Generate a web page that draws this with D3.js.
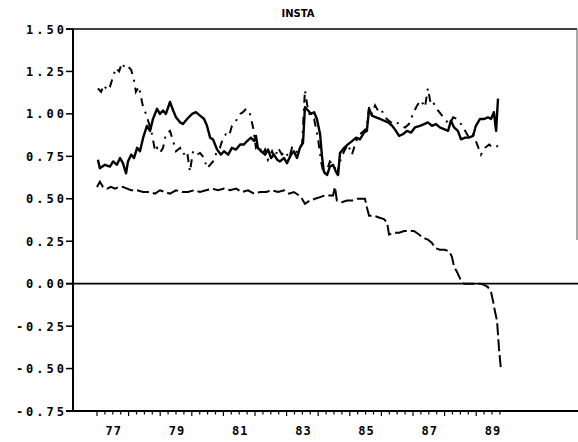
<!DOCTYPE html>
<html>
<head>
<meta charset="utf-8">
<script src="https://cdn.jsdelivr.net/npm/d3@7"></script>
<style>
  body { margin: 0; background: #fff; }
  svg { display: block; }
  .lbl { font-family: "DejaVu Sans Mono", monospace; font-weight: bold; font-size: 12px; fill: #000; }
</style>
</head>
<body>
<div id="chart"></div>
<script>
// solid series (decimal year, value)
let solidT = [1977.03,1977.09,1977.25,1977.41,1977.51,1977.63,1977.73,1977.82,1977.92,1977.98,
  1978.08,1978.17,1978.27,1978.36,1978.46,1978.58,1978.68,1978.77,1978.90,1978.99,
  1979.09,1979.18,1979.31,1979.41,1979.50,1979.63,1979.72,1979.85,1980.01,1980.13,
  1980.26,1980.39,1980.48,1980.58,1980.67,1980.80,1980.92,1981.02,1981.15,1981.27,
  1981.40,1981.53,1981.65,1981.75,1981.87,1981.97,1982.03,1982.09,1982.19,1982.32,
  1982.41,1982.51,1982.60,1982.70,1982.79,1982.92,1983.01,1983.14,1983.23,1983.33,
  1983.42,1983.52,1983.58,1983.68,1983.77,1983.87,1983.96,1984.06,1984.12,1984.18,
  1984.28,1984.37,1984.47,1984.56,1984.63,1984.69,1984.82,1984.94,1985.07,1985.20,
  1985.32,1985.45,1985.54,1985.61,1985.70,1985.83,1985.96,1986.08,1986.21,1986.34,
  1986.46,1986.56,1986.68,1986.81,1986.94,1987.06,1987.22,1987.35,1987.47,1987.60,
  1987.73,1987.85,1987.98,1988.11,1988.20,1988.30,1988.42,1988.52,1988.65,1988.77,
  1988.90,1988.99,1989.12,1989.25,1989.37,1989.47,1989.56,1989.63,1989.69];
let solidV = [0.73,0.68,0.70,0.69,0.72,0.70,0.74,0.71,0.65,0.72,
  0.76,0.74,0.80,0.78,0.86,0.93,0.90,0.97,1.03,1.00,
  1.02,1.00,1.07,1.02,0.98,0.95,0.94,0.97,1.00,1.01,
  0.99,0.97,0.93,0.86,0.85,0.79,0.76,0.78,0.76,0.80,
  0.79,0.82,0.82,0.84,0.86,0.84,0.87,0.80,0.78,0.76,
  0.79,0.74,0.76,0.73,0.72,0.74,0.71,0.76,0.78,0.74,
  0.80,0.83,1.04,1.02,1.00,1.01,0.97,0.88,0.75,0.66,
  0.64,0.69,0.70,0.66,0.64,0.77,0.80,0.82,0.84,0.86,
  0.85,0.89,0.90,1.03,0.99,0.98,0.97,0.96,0.95,0.93,
  0.90,0.87,0.88,0.90,0.89,0.92,0.93,0.94,0.95,0.93,
  0.94,0.92,0.91,0.90,0.96,0.92,0.90,0.85,0.86,0.86,
  0.87,0.93,0.97,0.97,0.98,0.97,1.01,0.90,1.09];

// dash-dot series
let dotT = [1977.03,1977.13,1977.22,1977.32,1977.41,1977.51,1977.60,1977.70,1977.79,1977.89,
  1977.98,1978.08,1978.17,1978.23,1978.33,1978.39,1978.46,1978.55,1978.65,1978.74,
  1978.84,1978.90,1978.99,1979.09,1979.18,1979.31,1979.41,1979.50,1979.63,1979.72,
  1979.85,1979.94,1980.04,1980.16,1980.26,1980.39,1980.48,1980.58,1980.67,1980.80,
  1980.89,1980.99,1981.08,1981.18,1981.27,1981.40,1981.53,1981.62,1981.72,1981.84,
  1981.94,1982.03,1982.13,1982.22,1982.32,1982.41,1982.54,1982.63,1982.73,1982.85,
  1982.95,1983.08,1983.17,1983.30,1983.39,1983.49,1983.58,1983.68,1983.77,1983.87,
  1983.99,1984.09,1984.18,1984.28,1984.37,1984.50,1984.59,1984.69,1984.82,1984.94,
  1985.07,1985.20,1985.32,1985.45,1985.54,1985.61,1985.70,1985.80,1985.89,1985.99,
  1986.11,1986.24,1986.37,1986.49,1986.62,1986.75,1986.87,1987.00,1987.13,1987.25,
  1987.38,1987.47,1987.57,1987.66,1987.79,1987.92,1988.04,1988.17,1988.27,1988.39,
  1988.52,1988.65,1988.77,1988.90,1989.03,1989.15,1989.28,1989.41,1989.53,1989.66,1989.72];
let dotV = [1.15,1.13,1.17,1.14,1.16,1.22,1.27,1.25,1.30,1.27,
  1.28,1.26,1.20,1.13,1.16,1.10,1.04,1.00,0.94,0.88,
  0.78,0.80,0.77,0.80,0.88,0.90,0.84,0.78,0.80,0.76,
  0.78,0.66,0.78,0.76,0.77,0.74,0.68,0.70,0.72,0.78,
  0.80,0.86,0.88,0.87,0.93,0.96,1.00,1.01,1.03,1.00,
  0.92,0.80,0.82,0.76,0.79,0.73,0.78,0.74,0.80,0.76,
  0.78,0.74,0.80,0.77,0.80,0.82,1.14,1.02,0.98,0.97,
  0.86,0.72,0.64,0.67,0.72,0.70,0.64,0.72,0.78,0.82,
  0.76,0.84,0.88,0.90,0.92,1.04,1.00,1.05,1.02,1.03,
  0.98,0.96,0.94,0.95,0.93,0.92,0.94,1.00,1.05,1.08,
  1.04,1.15,1.05,1.06,1.02,0.99,0.96,0.94,0.98,0.97,
  0.94,0.90,0.86,0.88,0.82,0.76,0.80,0.82,0.80,0.81,0.82];

// long-dash series
let dashT = [1977.00,1977.09,1977.19,1977.32,1977.44,1977.57,1977.70,1977.82,1977.95,1978.08,
  1978.27,1978.46,1978.65,1978.84,1978.99,1979.15,1979.31,1979.50,1979.69,1979.88,
  1980.07,1980.26,1980.45,1980.64,1980.83,1981.02,1981.21,1981.40,1981.59,1981.78,
  1981.97,1982.16,1982.35,1982.54,1982.73,1982.92,1983.08,1983.23,1983.39,1983.49,
  1983.58,1983.74,1983.90,1984.06,1984.22,1984.37,1984.47,1984.53,1984.59,1984.75,
  1984.91,1985.07,1985.23,1985.39,1985.48,1985.54,1985.61,1985.77,1985.92,1986.08,
  1986.18,1986.24,1986.40,1986.56,1986.72,1986.87,1987.03,1987.19,1987.32,1987.47,
  1987.60,1987.70,1987.85,1988.01,1988.14,1988.23,1988.30,1988.39,1988.49,1988.61,
  1988.80,1988.99,1989.15,1989.28,1989.37,1989.47,1989.53,1989.59,1989.66,1989.69,
  1989.72,1989.75,1989.78];
let dashV = [0.57,0.60,0.57,0.56,0.57,0.56,0.57,0.57,0.56,0.55,
  0.55,0.54,0.54,0.53,0.55,0.54,0.53,0.55,0.54,0.54,
  0.55,0.54,0.55,0.56,0.55,0.56,0.55,0.56,0.54,0.55,
  0.53,0.54,0.54,0.55,0.54,0.55,0.53,0.54,0.52,0.50,
  0.47,0.49,0.50,0.51,0.52,0.52,0.52,0.57,0.49,0.48,
  0.49,0.49,0.50,0.50,0.50,0.45,0.40,0.40,0.39,0.38,
  0.36,0.29,0.30,0.30,0.31,0.31,0.31,0.29,0.27,0.26,
  0.24,0.21,0.20,0.20,0.19,0.16,0.10,0.07,0.03,0.00,
  0.00,0.00,0.00,-0.01,-0.02,-0.05,-0.10,-0.16,-0.22,-0.30,
  -0.38,-0.44,-0.50];

let yTicks = [1.5, 1.25, 1.0, 0.75, 0.5, 0.25, 0.0, -0.25, -0.5, -0.75];
let yearLabels = [77, 79, 81, 83, 85, 87, 89];
let title = "INSTA";

let W = 578, H = 442;
let svg = d3.select("#chart").append("svg")
  .attr("width", W)
  .attr("height", H);

let m = {left: 73, right: 577, top: 29, bottom: 411};

let x = d3.scaleLinear().domain([1977, 1990]).range([97, 97 + 13 * 31.6]);
let y = d3.scaleLinear().domain([-0.75, 1.5]).range([m.bottom, m.top]);

// frame
svg.append("line").attr("x1", m.left - 7).attr("x2", m.right).attr("y1", m.top).attr("y2", m.top)
  .attr("stroke", "#000").attr("stroke-width", 1.5);
svg.append("line").attr("x1", m.right).attr("x2", m.right).attr("y1", m.top).attr("y2", 240)
  .attr("stroke", "#555").attr("stroke-width", 1);
svg.append("line").attr("x1", m.left).attr("x2", m.left).attr("y1", m.top).attr("y2", m.bottom)
  .attr("stroke", "#000").attr("stroke-width", 2);
svg.append("line").attr("x1", m.left - 7).attr("x2", W).attr("y1", m.bottom).attr("y2", m.bottom)
  .attr("stroke", "#000").attr("stroke-width", 2);
svg.append("line").attr("x1", m.left - 7).attr("x2", W).attr("y1", y(0)).attr("y2", y(0))
  .attr("stroke", "#000").attr("stroke-width", 1.8);

// y ticks + labels
svg.selectAll(".yt").data(yTicks).enter().append("line")
  .attr("x1", m.left - 7).attr("x2", m.left)
  .attr("y1", d => y(d)).attr("y2", d => y(d))
  .attr("stroke", "#000").attr("stroke-width", 1.5);
svg.selectAll(".yl").data(yTicks).enter().append("text")
  .attr("class", "lbl")
  .attr("x", m.left - 6)
  .attr("y", d => y(d) + 4.5)
  .attr("text-anchor", "end")
  .style("letter-spacing", "3px")
  .text(d => d3.format(".2f")(d).replace("−", "-"));

// x ticks: quarterly
let quarters = d3.range(1977, 1989.8, 0.25);
svg.selectAll(".xt").data(quarters).enter().append("line")
  .attr("x1", d => x(d)).attr("x2", d => x(d))
  .attr("y1", m.bottom).attr("y2", d => m.bottom + (d % 1 === 0 ? 5 : 3.5))
  .attr("stroke", "#000").attr("stroke-width", 1.2);
svg.selectAll(".xl").data(yearLabels).enter().append("text")
  .attr("class", "lbl")
  .attr("x", d => x(1900 + d + 0.5) + 1)
  .attr("y", 435)
  .attr("text-anchor", "middle")
  .style("letter-spacing", "1px")
  .text(d => d);

svg.append("text")
  .attr("x", 298).attr("y", 17)
  .attr("text-anchor", "middle")
  .style("font-family", "DejaVu Sans")
  .style("font-weight", "bold")
  .style("font-size", "10px")
  .text(title);

let line = d3.line().x(d => x(d[0])).y(d => y(d[1]));

svg.append("path")
  .datum(d3.zip(dashT, dashV))
  .attr("d", line)
  .attr("fill", "none").attr("stroke", "#000").attr("stroke-width", 2)
  .attr("stroke-dasharray", "12,4");

svg.append("path")
  .datum(d3.zip(dotT, dotV))
  .attr("d", line)
  .attr("fill", "none").attr("stroke", "#000").attr("stroke-width", 2)
  .attr("stroke-dasharray", "8,6,2,6");

svg.append("path")
  .datum(d3.zip(solidT, solidV))
  .attr("d", line)
  .attr("fill", "none").attr("stroke", "#000").attr("stroke-width", 2.4)
  .attr("stroke-linejoin", "round");
</script>
</body>
</html>
